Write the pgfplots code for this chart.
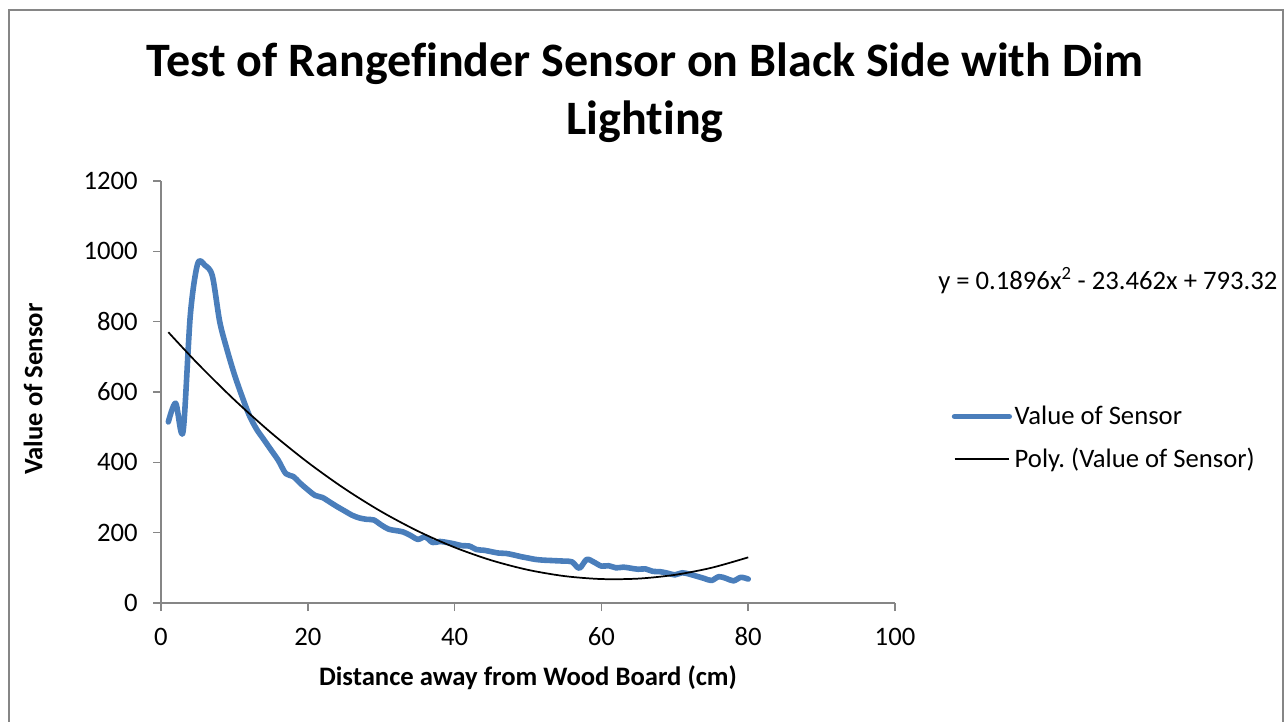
\documentclass[border=0pt]{standalone}
\usepackage{pgfplots}
\pgfplotsset{compat=1.18}
\usepackage{fontspec}
\setmainfont{Carlito}[Ligatures=NoCommon]
\definecolor{sensorblue}{RGB}{74,126,187}
\definecolor{axgray}{RGB}{134,134,134}
\begin{document}
\frenchspacing
\begin{tikzpicture}
\useasboundingbox (0,0) rectangle (963pt,-540.75pt);
\begin{scope}[x=0.75pt,y=-0.75pt]
\draw[axgray, line width=1.2pt] (9,10) rectangle (1283,760);
\node[font=\fontsize{36}{43}\selectfont\bfseries, anchor=base, inner sep=0pt] at (645,76) {Test of Rangefinder Sensor on Black Side with Dim};
\node[font=\fontsize{36}{43}\selectfont\bfseries, anchor=base, inner sep=0pt] at (645,134) {Lighting};
\node[font=\fontsize{20}{24}\selectfont\bfseries, rotate=90, inner sep=0pt] at (33,389) {Value of Sensor};
\node[font=\fontsize{20}{24}\selectfont\bfseries, inner sep=0pt] at (528,678) {Distance away from Wood Board (cm)};
\node[font=\fontsize{20}{24}\selectfont, anchor=west, inner sep=0pt] at (938,281) {y = 0.1896x\textsuperscript{2} - 23.462x + 793.32};
\end{scope}
\begin{axis}[
  at={(120.75pt,-452.25pt)}, anchor=south west,
  width=550.5pt, height=316.5pt, scale only axis,
  xmin=0, xmax=100, ymin=0, ymax=1200,
  xtick={0,20,...,100}, ytick={0,200,...,1200},
  axis x line*=bottom, axis y line*=left,
  axis line style={axgray, line width=1.2pt, -},
  tick style={axgray, line width=1.2pt},
  tick align=outside, major tick length=6pt,
  ticklabel style={font=\fontsize{20}{24}\selectfont, text=black},
  yticklabel style={xshift=-8pt},
  xticklabel style={yshift=-9pt},
  /pgf/number format/assume math mode=true,
  /pgf/number format/1000 sep={},
  scaled ticks=false,
  legend style={at={(1.077,0.391)}, anchor=west, draw=none, fill=none,
    font=\fontsize{20}{24}\selectfont, inner sep=0pt, row sep=12pt},
  legend cell align=left,
  legend image code/.code={\draw[#1] (0pt,0pt) -- (41pt,0pt);},
]
\addplot[sensorblue, line width=4.2pt, line cap=round, line join=round, smooth] coordinates {
(1,515)(2,568)(3,487)(4,820)(5,965)(6,960)(7,930)(8,800)(9,720)(10,650)
(11,590)(12,535)(13,495)(14,465)(15,435)(16,405)(17,368)(18,360)(19,340)(20,322)
(21,306)(22,300)(23,287)(24,274)(25,262)(26,250)(27,242)(28,238)(29,236)(30,222)
(31,210)(32,206)(33,202)(34,192)(35,181)(36,188)(37,172)(38,175)(39,172)(40,168)
(41,163)(42,162)(43,152)(44,150)(45,146)(46,142)(47,141)(48,137)(49,132)(50,128)
(51,124)(52,122)(53,121)(54,120)(55,119)(56,117)(57,99)(58,124)(59,116)(60,105)
(61,106)(62,100)(63,102)(64,99)(65,96)(66,97)(67,90)(68,89)(69,85)(70,80)
(71,86)(72,82)(73,76)(74,70)(75,64)(76,75)(77,70)(78,63)(79,73)(80,68)
};
\addlegendentry{Value of Sensor}
\addplot[black, line width=1.3pt, smooth] coordinates {
(1,770.05)(5,680.75)(10,577.66)(15,484.05)(20,399.92)(25,325.27)(30,260.10)
(35,204.41)(40,158.20)(45,121.47)(50,94.22)(55,76.45)(60,68.16)(65,69.35)
(70,80.02)(75,100.17)(80,129.80)
};
\addlegendentry{Poly. (Value of Sensor)}
\end{axis}
\end{tikzpicture}
\end{document}
